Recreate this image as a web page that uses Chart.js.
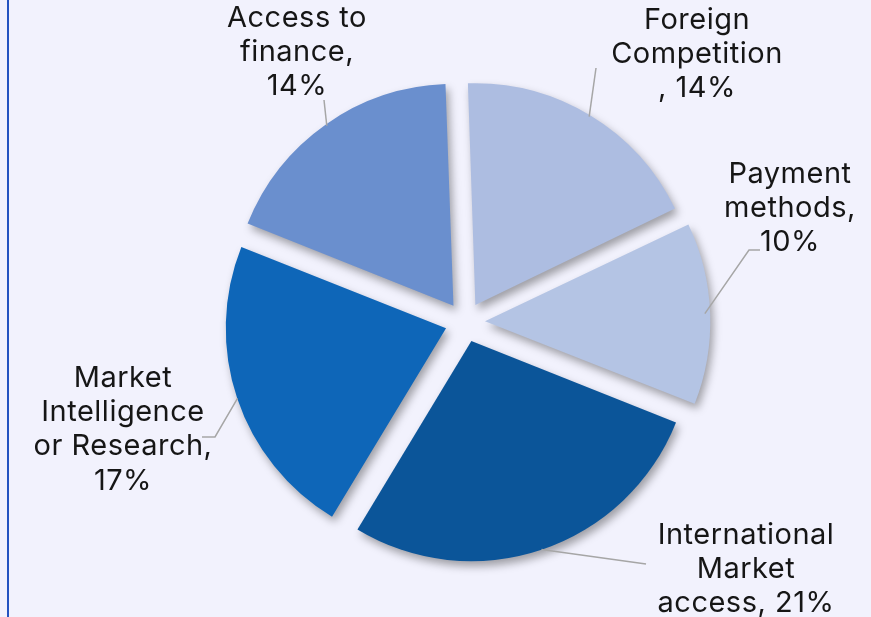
<!DOCTYPE html>
<html>
<head>
<meta charset="utf-8">
<script src="https://cdn.jsdelivr.net/npm/chart.js@4/dist/chart.umd.min.js"></script>
<style>
  html, body { margin: 0; padding: 0; background: #f2f2fd; }
  #wrap { position: relative; width: 871px; height: 617px; }
  #edge { position: absolute; left: 7px; top: 0; width: 2px; height: 617px; background: #2453c0; }
</style>
</head>
<body>
<div id="wrap">
  <canvas id="pieChart" width="871" height="617"></canvas>
  <div id="edge"></div>
</div>
<script>
// categories clockwise from the top
const categories = ['Foreign Competition', 'Payment methods', 'International Market access', 'Market Intelligence or Research', 'Access to finance'];
const shares = [14, 10, 21, 17, 14];
const labelLines = [
    ['Foreign', 'Competition', ', 14%'],
    ['Payment', 'methods,', '10%'],
    ['International', 'Market', 'access, 21%'],
    ['Market', 'Intelligence', 'or Research,', '17%'],
    ['Access to', 'finance,', '14%']
];
const sliceColors = ['#adbde1', '#b4c4e4', '#0b5599', '#0e66b8', '#6a8fce'];

// where each label sits and how its leader line bends (style only)
const labelStyle = [
    { x: 697, y: 20, path: [[596, 68]] },
    { x: 790, y: 174, path: [[749, 250], [760, 250]] },
    { x: 746, y: 535, path: [[646, 564]] },
    { x: 123, y: 378, path: [[215, 437], [202, 437]] },
    { x: 297, y: 18, path: [[324, 100]] }
];

// chart.js draws arcs shifted by offset / 4
const sliceOffset = 80;

const shadowPlugin = {
    id: 'sliceShadow',
    beforeDatasetsDraw(chart) {
        const ctx = chart.ctx;
        ctx.save();
        ctx.shadowColor = 'rgba(0, 0, 0, 0.35)';
        ctx.shadowBlur = 8;
        ctx.shadowOffsetX = 3;
        ctx.shadowOffsetY = 5;
    },
    afterDatasetsDraw(chart) {
        chart.ctx.restore();
    }
};

const labelPlugin = {
    id: 'outsideLabels',
    afterDraw(chart) {
        const ctx = chart.ctx;
        const arcs = chart.getDatasetMeta(0).data;
        ctx.save();
        arcs.forEach((arc, i) => {
            const p = arc.getProps(['x', 'y', 'startAngle', 'endAngle', 'outerRadius'], true);
            const mid = (p.startAngle + p.endAngle) / 2;
            const r = p.outerRadius + (arc.options.offset || 0) / 4;
            const sx = p.x + Math.cos(mid) * r;
            const sy = p.y + Math.sin(mid) * r;
            const st = labelStyle[i];

            // leader line
            ctx.strokeStyle = '#a6a6a6';
            ctx.lineWidth = 1.5;
            ctx.beginPath();
            ctx.moveTo(sx, sy);
            st.path.forEach(pt => ctx.lineTo(pt[0], pt[1]));
            ctx.stroke();

            // label text
            ctx.fillStyle = '#161616';
            ctx.font = '29px Inter';
            ctx.letterSpacing = '0.5px';
            ctx.textAlign = 'center';
            ctx.textBaseline = 'middle';
            labelLines[i].forEach((line, k) => {
                ctx.fillText(line, st.x, st.y + k * 34.3);
            });
        });
        ctx.restore();
    }
};

new Chart(document.getElementById('pieChart').getContext('2d'), {
    type: 'pie',
    data: {
        labels: categories,
        datasets: [{
            data: shares,
            backgroundColor: sliceColors,
            borderWidth: 0,
            offset: sliceOffset
        }]
    },
    options: {
        responsive: false,
        animation: false,
        rotation: -2,
        radius: 220,
        layout: {
            padding: { left: 59, right: 0, top: 27, bottom: 0 }
        },
        plugins: {
            legend: { display: false },
            tooltip: { enabled: false }
        }
    },
    plugins: [shadowPlugin, labelPlugin]
});
</script>
</body>
</html>
